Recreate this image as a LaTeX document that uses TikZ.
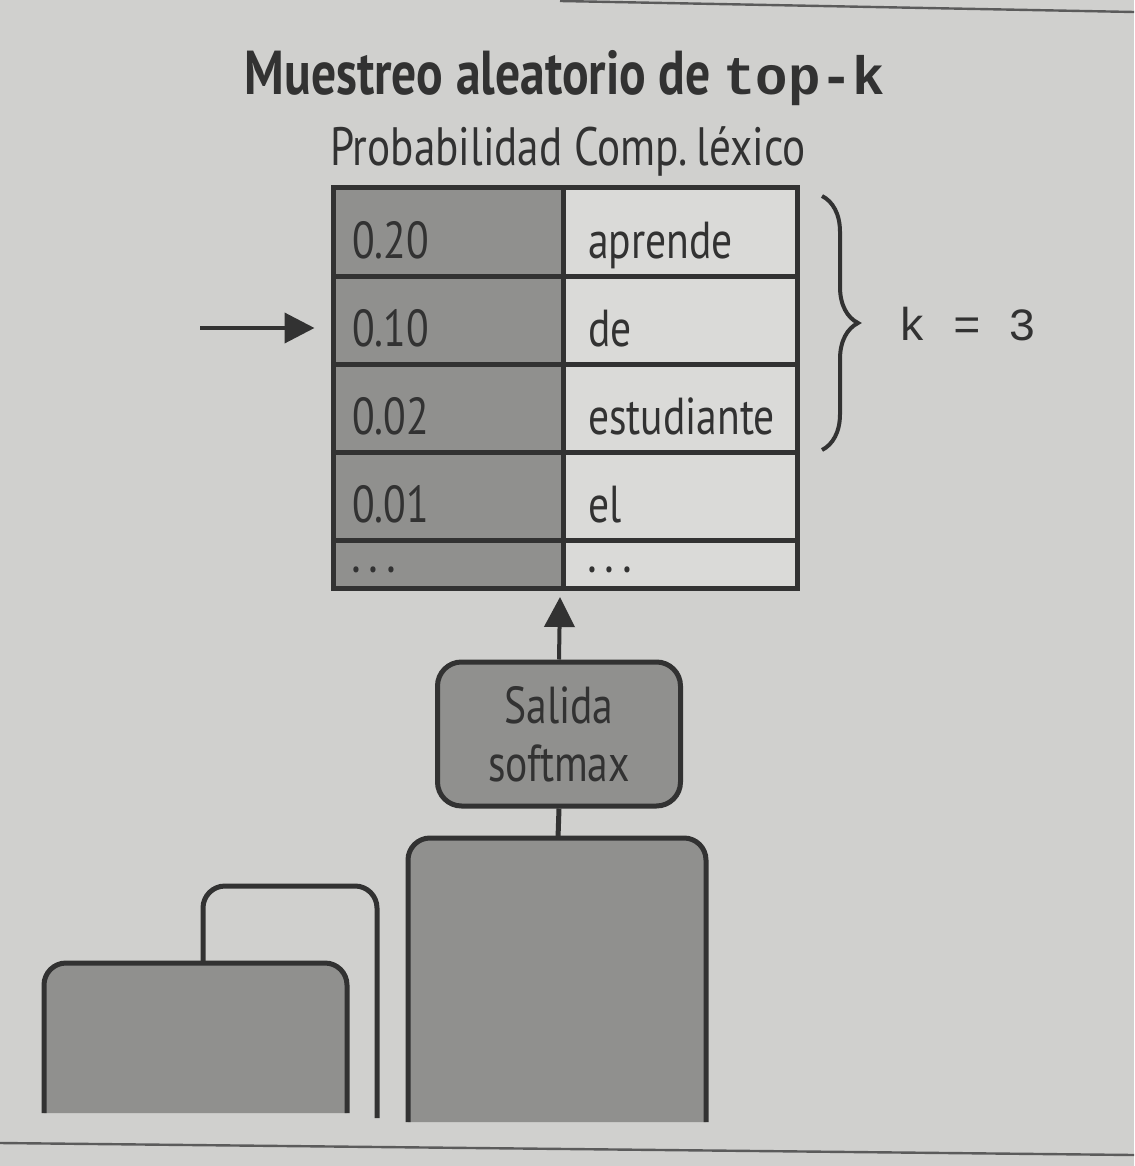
\documentclass[tikz,border=0pt]{standalone}
\usepackage{fontspec}
\setmainfont{PT Sans}[FakeStretch=0.8]
\newfontfamily\monof{Liberation Mono}
\usetikzlibrary{arrows.meta,decorations.pathreplacing}
\definecolor{bgc}{RGB}{208,208,206}
\definecolor{darkc}{RGB}{144,144,142}
\definecolor{lightc}{RGB}{218,218,216}
\definecolor{inkc}{RGB}{50,50,50}
\begin{document}
\begin{tikzpicture}[x=0.5pt,y=-0.5pt,
  ink/.style={draw=inkc, line width=2.5pt},
  cellbase/.style={ink, inner ysep=0pt, align=left, text=inkc,
    font=\fontsize{26}{29}\selectfont, text height=28pt, text depth=2pt, minimum height=44pt},
  cellL/.style={cellbase, fill=darkc, text width=96pt, inner xsep=9.5pt},
  cellR/.style={cellbase, fill=lightc, text width=92pt, inner xsep=12.5pt},
  lastrow/.style={minimum height=24pt, text height=8pt, text depth=0pt, font=\fontsize{20}{20}\selectfont\bfseries},
  arr/.style={draw=inkc, line width=2pt, -{Triangle[length=15pt,width=15pt]}},
  lbl/.style={text=inkc, inner sep=0pt},
  blockfill/.style={fill=darkc},
  blockline/.style={draw=inkc, line width=2.5pt, rounded corners=11pt}
]
\fill[bgc] (0,0) rectangle (1134,1166);
\useasboundingbox (0,0) rectangle (1134,1166);

% page rules
\coordinate (rt1) at (560,1); \coordinate (rt2) at (1134,12);
\coordinate (rb1) at (0,1143); \coordinate (rb2) at (1134,1155);
\draw[inkc!80, line width=1.2pt] (rt1) -- (rt2);
\draw[inkc!80, line width=1.2pt] (rb1) -- (rb2);

% titles
\node[lbl, anchor=base] (title) at (565,95)
  {\fontsize{31}{34}\selectfont\bfseries Muestreo aleatorio de {\fontsize{27}{30}\selectfont\monof top-k}};
\node[lbl, anchor=base] (sub) at (568,166)
  {\fontsize{27}{30}\selectfont Probabilidad Comp.\,léxico};

% table
\node[cellL] (p1) at (448,232) {0.20};
\node[cellR] (w1) at (680,232) {aprende};
\node[cellL] (p2) at (448,320) {0.10};
\node[cellR] (w2) at (680,320) {de};
\node[cellL] (p3) at (448,408) {0.02};
\node[cellR] (w3) at (680,408) {\mbox{estudiante}};
\node[cellL] (p4) at (448,496) {0.01};
\node[cellR] (w4) at (680,496) {el};
\node[cellL, lastrow] (p5) at (448,564) {.\hspace{5pt}.\hspace{5pt}.};
\node[cellR, lastrow] (w5) at (680,564) {.\hspace{5pt}.\hspace{5pt}.};

% left arrow
\coordinate (la) at (200,328);
\draw[arr] (la) -- ([xshift=-8pt]p2.west |- la);

% brace
\coordinate (bt) at (822,196);
\coordinate (bb) at (822,450);
\draw[inkc, line width=2pt, decorate, decoration={brace, amplitude=18pt}] (bt) -- (bb);
\node[lbl, anchor=base west] (k) at (898,340) {\fontsize{23}{26}\selectfont\monof k = 3};

% softmax box
\node[ink, fill=darkc, rounded corners=12pt, minimum width=121.5pt, minimum height=72pt,
      align=center, text=inkc, font=\fontsize{26}{29}\selectfont, inner sep=0pt] (soft) at (559,734)
      {Salida\\softmax};
\coordinate (tabbot) at (560,597);
\draw[arr] (soft.north) -- (tabbot);

% lower blocks
\coordinate (e1) at (408,1122); \coordinate (e2) at (408,838);
\coordinate (e3) at (706,838);  \coordinate (e4) at (706,1122);
\path[blockfill, rounded corners=11pt] (e1) -- (e2) -- (e3) -- (e4);
\draw[blockline] (e1) -- (e2) -- (e3) -- (e4);

\coordinate (s1) at (44,1113); \coordinate (s2) at (44,963);
\coordinate (s3) at (347,963); \coordinate (s4) at (347,1113);
\path[blockfill, rounded corners=11pt] (s1) -- (s2) -- (s3) -- (s4);
\draw[blockline] (s1) -- (s2) -- (s3) -- (s4);

\coordinate (o1) at (203,963); \coordinate (o2) at (203,886);
\coordinate (o3) at (377,886); \coordinate (o4) at (377,1118);
\draw[blockline] (o1) -- (o2) -- (o3) -- (o4);

\coordinate (enctop) at (558,838);
\draw[ink] (soft.south) -- (enctop);
\end{tikzpicture}
\end{document}
